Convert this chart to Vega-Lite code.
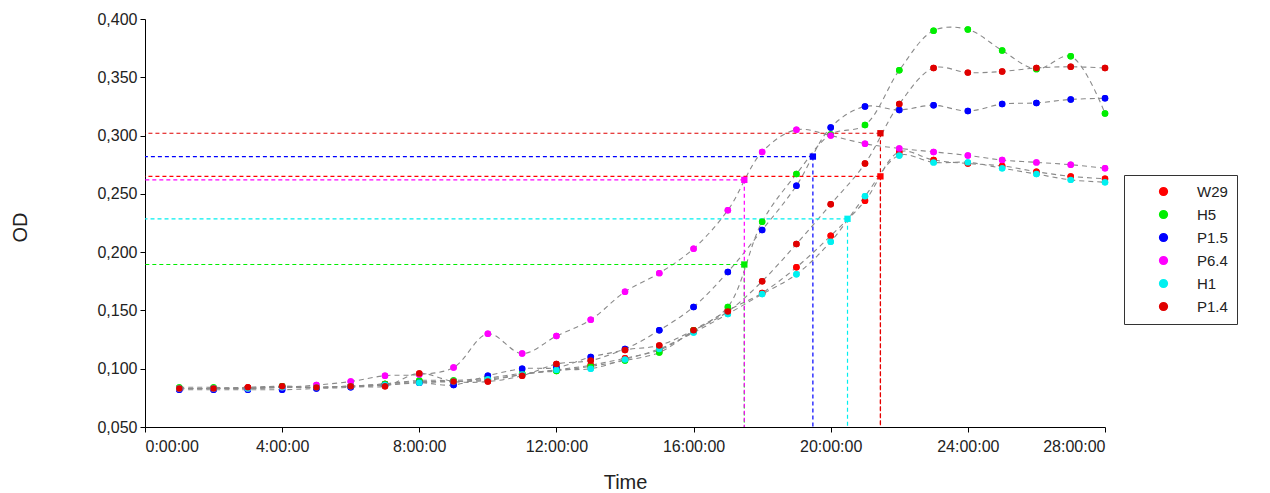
{
  "$schema": "https://vega.github.io/schema/vega-lite/v6.json",
  "width": 960,
  "height": 408,
  "autosize": {"type": "none"},
  "padding": {"left": 145, "top": 19, "right": 165, "bottom": 66},
  "background": "white",
  "config": {
    "view": {"stroke": null},
    "font": "Liberation Sans",
    "axis": {"labelFont": "Liberation Sans", "titleFont": "Liberation Sans", "labelColor": "#222", "titleColor": "#222", "domainColor": "#000", "tickColor": "#000", "tickSize": 5, "grid": false, "titleFontWeight": "normal"}
  },
  "datasets": {
    "refs": [
      {"s": "H5", "t": 17.48, "v": 0.1894},
      {"s": "P6.4", "t": 17.48, "v": 0.262},
      {"s": "P1.5", "t": 19.48, "v": 0.282},
      {"s": "H1", "t": 20.49, "v": 0.2286},
      {"s": "W29", "t": 21.45, "v": 0.265},
      {"s": "P1.4", "t": 21.45, "v": 0.302}
    ],
    "od": [
      {"s":"W29","t":1,"v":0.083},{"s":"W29","t":2,"v":0.083},{"s":"W29","t":3,"v":0.084},{"s":"W29","t":4,"v":0.084},{"s":"W29","t":5,"v":0.084},{"s":"W29","t":6,"v":0.085},{"s":"W29","t":7,"v":0.087},{"s":"W29","t":8,"v":0.089},{"s":"W29","t":9,"v":0.089},{"s":"W29","t":10,"v":0.090},{"s":"W29","t":11,"v":0.095},{"s":"W29","t":12,"v":0.099},{"s":"W29","t":13,"v":0.103},{"s":"W29","t":14,"v":0.109},{"s":"W29","t":15,"v":0.116},{"s":"W29","t":16,"v":0.132},{"s":"W29","t":17,"v":0.150},{"s":"W29","t":18,"v":0.165},{"s":"W29","t":19,"v":0.187},{"s":"W29","t":20,"v":0.214},{"s":"W29","t":21,"v":0.244},{"s":"W29","t":22,"v":0.286},{"s":"W29","t":23,"v":0.279},{"s":"W29","t":24,"v":0.276},{"s":"W29","t":25,"v":0.274},{"s":"W29","t":26,"v":0.269},{"s":"W29","t":27,"v":0.265},{"s":"W29","t":28,"v":0.263},
      {"s":"H5","t":1,"v":0.084},{"s":"H5","t":2,"v":0.084},{"s":"H5","t":3,"v":0.083},{"s":"H5","t":4,"v":0.085},{"s":"H5","t":5,"v":0.084},{"s":"H5","t":6,"v":0.085},{"s":"H5","t":7,"v":0.087},{"s":"H5","t":8,"v":0.090},{"s":"H5","t":9,"v":0.090},{"s":"H5","t":10,"v":0.092},{"s":"H5","t":11,"v":0.096},{"s":"H5","t":12,"v":0.098},{"s":"H5","t":13,"v":0.102},{"s":"H5","t":14,"v":0.107},{"s":"H5","t":15,"v":0.114},{"s":"H5","t":16,"v":0.133},{"s":"H5","t":17,"v":0.153},{"s":"H5","t":18,"v":0.226},{"s":"H5","t":19,"v":0.267},{"s":"H5","t":20,"v":0.301},{"s":"H5","t":21,"v":0.309},{"s":"H5","t":22,"v":0.356},{"s":"H5","t":23,"v":0.390},{"s":"H5","t":24,"v":0.391},{"s":"H5","t":25,"v":0.373},{"s":"H5","t":26,"v":0.357},{"s":"H5","t":27,"v":0.368},{"s":"H5","t":28,"v":0.319},
      {"s":"P1.5","t":1,"v":0.082},{"s":"P1.5","t":2,"v":0.082},{"s":"P1.5","t":3,"v":0.082},{"s":"P1.5","t":4,"v":0.082},{"s":"P1.5","t":5,"v":0.083},{"s":"P1.5","t":6,"v":0.084},{"s":"P1.5","t":7,"v":0.086},{"s":"P1.5","t":8,"v":0.088},{"s":"P1.5","t":9,"v":0.086},{"s":"P1.5","t":10,"v":0.094},{"s":"P1.5","t":11,"v":0.100},{"s":"P1.5","t":12,"v":0.101},{"s":"P1.5","t":13,"v":0.110},{"s":"P1.5","t":14,"v":0.117},{"s":"P1.5","t":15,"v":0.133},{"s":"P1.5","t":16,"v":0.153},{"s":"P1.5","t":17,"v":0.183},{"s":"P1.5","t":18,"v":0.219},{"s":"P1.5","t":19,"v":0.257},{"s":"P1.5","t":20,"v":0.307},{"s":"P1.5","t":21,"v":0.325},{"s":"P1.5","t":22,"v":0.322},{"s":"P1.5","t":23,"v":0.326},{"s":"P1.5","t":24,"v":0.321},{"s":"P1.5","t":25,"v":0.327},{"s":"P1.5","t":26,"v":0.328},{"s":"P1.5","t":27,"v":0.331},{"s":"P1.5","t":28,"v":0.332},
      {"s":"P6.4","t":1,"v":0.083},{"s":"P6.4","t":2,"v":0.083},{"s":"P6.4","t":3,"v":0.083},{"s":"P6.4","t":4,"v":0.084},{"s":"P6.4","t":5,"v":0.086},{"s":"P6.4","t":6,"v":0.089},{"s":"P6.4","t":7,"v":0.094},{"s":"P6.4","t":8,"v":0.095},{"s":"P6.4","t":9,"v":0.101},{"s":"P6.4","t":10,"v":0.130},{"s":"P6.4","t":11,"v":0.113},{"s":"P6.4","t":12,"v":0.128},{"s":"P6.4","t":13,"v":0.142},{"s":"P6.4","t":14,"v":0.166},{"s":"P6.4","t":15,"v":0.182},{"s":"P6.4","t":16,"v":0.203},{"s":"P6.4","t":17,"v":0.236},{"s":"P6.4","t":18,"v":0.286},{"s":"P6.4","t":19,"v":0.305},{"s":"P6.4","t":20,"v":0.300},{"s":"P6.4","t":21,"v":0.293},{"s":"P6.4","t":22,"v":0.289},{"s":"P6.4","t":23,"v":0.286},{"s":"P6.4","t":24,"v":0.283},{"s":"P6.4","t":25,"v":0.279},{"s":"P6.4","t":26,"v":0.277},{"s":"P6.4","t":27,"v":0.275},{"s":"P6.4","t":28,"v":0.272},
      {"s":"H1","t":1,"v":0.083},{"s":"H1","t":2,"v":0.083},{"s":"H1","t":3,"v":0.083},{"s":"H1","t":4,"v":0.084},{"s":"H1","t":5,"v":0.084},{"s":"H1","t":6,"v":0.085},{"s":"H1","t":7,"v":0.086},{"s":"H1","t":8,"v":0.088},{"s":"H1","t":9,"v":0.089},{"s":"H1","t":10,"v":0.091},{"s":"H1","t":11,"v":0.095},{"s":"H1","t":12,"v":0.099},{"s":"H1","t":13,"v":0.100},{"s":"H1","t":14,"v":0.108},{"s":"H1","t":15,"v":0.117},{"s":"H1","t":16,"v":0.131},{"s":"H1","t":17,"v":0.147},{"s":"H1","t":18,"v":0.164},{"s":"H1","t":19,"v":0.181},{"s":"H1","t":20,"v":0.209},{"s":"H1","t":21,"v":0.248},{"s":"H1","t":22,"v":0.283},{"s":"H1","t":23,"v":0.277},{"s":"H1","t":24,"v":0.277},{"s":"H1","t":25,"v":0.272},{"s":"H1","t":26,"v":0.267},{"s":"H1","t":27,"v":0.262},{"s":"H1","t":28,"v":0.260},
      {"s":"P1.4","t":1,"v":0.083},{"s":"P1.4","t":2,"v":0.083},{"s":"P1.4","t":3,"v":0.084},{"s":"P1.4","t":4,"v":0.085},{"s":"P1.4","t":5,"v":0.084},{"s":"P1.4","t":6,"v":0.085},{"s":"P1.4","t":7,"v":0.085},{"s":"P1.4","t":8,"v":0.096},{"s":"P1.4","t":9,"v":0.089},{"s":"P1.4","t":10,"v":0.089},{"s":"P1.4","t":11,"v":0.094},{"s":"P1.4","t":12,"v":0.104},{"s":"P1.4","t":13,"v":0.107},{"s":"P1.4","t":14,"v":0.116},{"s":"P1.4","t":15,"v":0.120},{"s":"P1.4","t":16,"v":0.133},{"s":"P1.4","t":17,"v":0.149},{"s":"P1.4","t":18,"v":0.175},{"s":"P1.4","t":19,"v":0.207},{"s":"P1.4","t":20,"v":0.241},{"s":"P1.4","t":21,"v":0.276},{"s":"P1.4","t":22,"v":0.327},{"s":"P1.4","t":23,"v":0.358},{"s":"P1.4","t":24,"v":0.354},{"s":"P1.4","t":25,"v":0.355},{"s":"P1.4","t":26,"v":0.358},{"s":"P1.4","t":27,"v":0.359},{"s":"P1.4","t":28,"v":0.358}
    ]
  },
  "layer": [
    {
      "data": {"name": "od"},
      "mark": {"type": "circle", "size": 42, "opacity": 1},
      "encoding": {
        "x": {"field": "t", "type": "quantitative", "scale": {"domain": [0, 28], "nice": false, "zero": false},
          "axis": {"values": [0, 4, 8, 12, 16, 20, 24, 28], "labelExpr": "datum.value + ':00:00'", "labelFontSize": 16, "labelPadding": 6, "title": "Time", "titleFontSize": 20, "titleY": 55, "titleBaseline": "middle"}},
        "y": {"field": "v", "type": "quantitative", "scale": {"domain": [0.05, 0.4], "nice": false, "zero": false},
          "axis": {"values": [0.05, 0.1, 0.15, 0.2, 0.25, 0.3, 0.35, 0.4], "labelExpr": "replace(format(datum.value, '.3f'), '.', ',')", "labelFontSize": 16, "labelPadding": 3, "title": "OD", "titleFontSize": 20, "titleX": -125, "titleY": 208, "titleBaseline": "middle", "titleAlign": "center"}},
        "color": {"field": "s", "type": "nominal", "sort": null,
          "scale": {"domain": ["W29", "H5", "P1.5", "P6.4", "H1", "P1.4"], "range": ["#ff0000", "#00ee00", "#0000ff", "#ff00ff", "#00f0f0", "#e00000"]},
          "legend": {"title": null, "orient": "none", "legendX": 979, "legendY": 156, "direction": "vertical",
            "symbolType": "circle", "symbolSize": 60, "symbolOffset": 23, "labelOffset": 26, "labelFontSize": 15, "labelFont": "Liberation Sans", "labelColor": "#222",
            "rowPadding": 7, "padding": 9, "strokeColor": "#333", "fillColor": "white",
            "labelExpr": "datum.label + '\u00a0\u00a0\u00a0\u00a0\u00a0\u00a0\u00a0\u00a0\u00a0\u00a0\u00a0\u00a0\u00a0\u00a0\u00a0'"}
        }
      }
    },
    {
      "data": {"name": "od"},
      "mark": {"type": "line", "color": "#8a8a8a", "strokeWidth": 1.1, "strokeDash": [5, 4], "interpolate": "catmull-rom"},
      "encoding": {
        "x": {"field": "t", "type": "quantitative"},
        "y": {"field": "v", "type": "quantitative"},
        "detail": {"field": "s", "type": "nominal"}
      }
    },
    {
      "data": {"name": "refs"},
      "mark": {"type": "rule", "strokeWidth": 1.2, "strokeDash": [4, 3]},
      "encoding": {
        "x": {"field": "t", "type": "quantitative"},
        "x2": {"datum": 0},
        "y": {"field": "v", "type": "quantitative"},
        "color": {"field": "s", "type": "nominal"}
      }
    },
    {
      "data": {"name": "refs"},
      "mark": {"type": "rule", "strokeWidth": 1.2, "strokeDash": [4, 3]},
      "encoding": {
        "x": {"field": "t", "type": "quantitative"},
        "y": {"field": "v", "type": "quantitative"},
        "y2": {"datum": 0.05},
        "color": {"field": "s", "type": "nominal"}
      }
    },
    {
      "data": {"name": "refs"},
      "mark": {"type": "point", "shape": "square", "filled": true, "size": 40, "opacity": 1},
      "encoding": {
        "x": {"field": "t", "type": "quantitative"},
        "y": {"field": "v", "type": "quantitative"},
        "color": {"field": "s", "type": "nominal"}
      }
    },
    {
      "data": {"name": "od"},
      "mark": {"type": "circle", "size": 42, "opacity": 1},
      "encoding": {
        "x": {"field": "t", "type": "quantitative"},
        "y": {"field": "v", "type": "quantitative"},
        "color": {"field": "s", "type": "nominal"}
      }
    }
  ]
}
